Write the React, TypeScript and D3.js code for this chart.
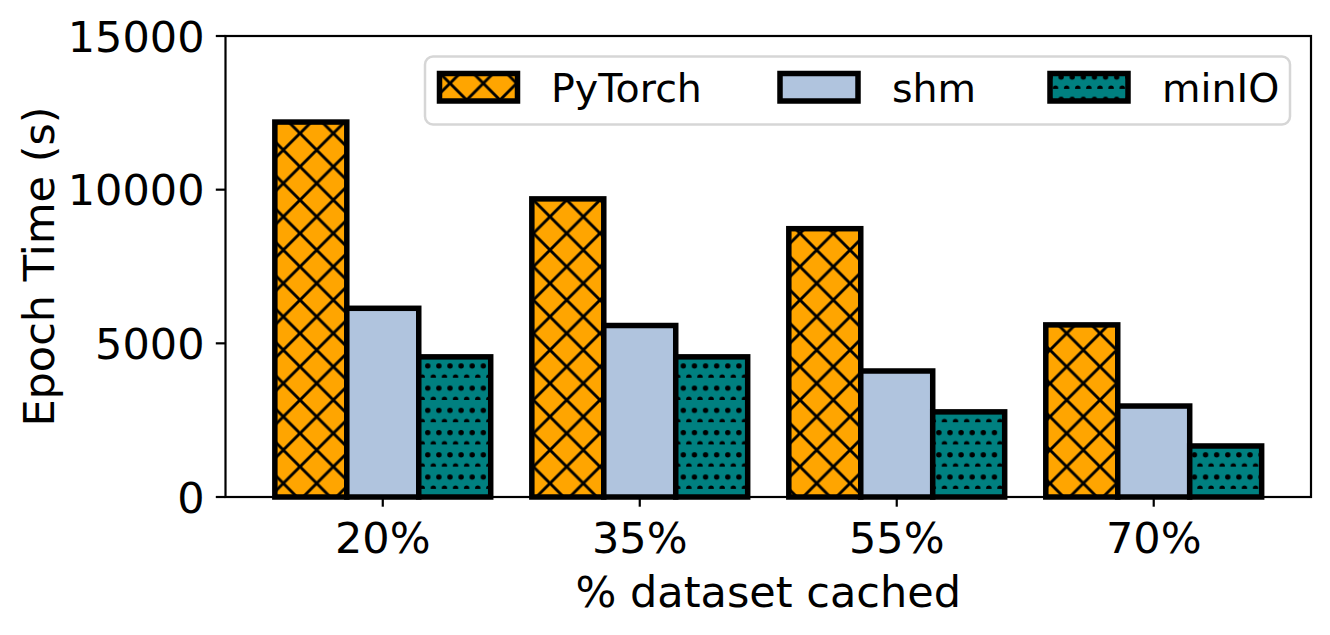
import * as d3 from "d3";

// Epoch time (s) per cache level
const categories = ["20%", "35%", "55%", "70%"];
const seriesNames = ["PyTorch", "shm", "minIO"];
const pytorchValues = [12200, 9700, 8730, 5600];
const shmValues = [6140, 5580, 4100, 2960];
const minioValues = [4560, 4560, 2770, 1660];
const yTicks = [0, 5000, 10000, 15000];

const seriesValues = [pytorchValues, shmValues, minioValues];
const seriesFills = ["url(#hatchCross)", "#B0C4DE", "url(#hatchDots)"];

const W = 1330;
const H = 635;
const plot = { left: 225.5, right: 1311, top: 36, bottom: 497 };
const barWidth = 0.28;
const font = "'DejaVu Sans', sans-serif";
const labelSize = 43;
const legendSize = 39.5;
const hatchStep = 200 / 6; // hatch repeats 6 times per inch at 200 dpi
const dotStep = hatchStep / 3;

// diagonal lines of the "x" hatch, drawn wide enough that tile corners join up
const crossPath = [-1, 0, 1]
    .map((k) => {
        const o = k * hatchStep;
        const h = hatchStep;
        return `M${-h},${o + h * 2} L${h * 2},${o - h} M${-h},${o - h} L${h * 2},${o + h * 2}`;
    })
    .join(" ");

const App = () => {
    const x = d3
        .scaleLinear()
        .domain([-0.612, categories.length - 1 + 0.612])
        .range([plot.left, plot.right]);
    const y = d3.scaleLinear().domain([0, 15000]).range([plot.bottom, plot.top]);

    // legend entries: handle left x, text left x
    const legendItems = [
        { handle: 439.5, text: 551 },
        { handle: 780, text: 892 },
        { handle: 1050, text: 1162 },
    ];

    return (
        <svg
            width={W}
            height={H}
            style={{ position: "absolute", left: 0, top: 0, background: "white" }}
        >
            <defs>
                <pattern
                    id="hatchCross"
                    patternUnits="userSpaceOnUse"
                    width={hatchStep}
                    height={hatchStep}
                >
                    <rect width={hatchStep} height={hatchStep} fill="#FFA500" />
                    <path d={crossPath} stroke="black" strokeWidth={2.9} fill="none" />
                </pattern>
                <pattern
                    id="hatchDots"
                    patternUnits="userSpaceOnUse"
                    width={dotStep}
                    height={dotStep * 2}
                >
                    <rect width={dotStep} height={dotStep * 2} fill="#008080" />
                    <circle cx={dotStep / 2} cy={10.4} r={2.7} fill="black" />
                    <circle cx={0} cy={21.6} r={2.7} fill="black" />
                    <circle cx={dotStep} cy={21.6} r={2.7} fill="black" />
                </pattern>
            </defs>

            {/* bars */}
            {seriesValues.map((values, s) =>
                values.map((v, i) => {
                    const left = x(i + (s - 1) * barWidth - barWidth / 2);
                    const right = x(i + (s - 1) * barWidth + barWidth / 2);
                    return (
                        <rect
                            key={`${s}-${i}`}
                            x={left}
                            y={y(v)}
                            width={right - left}
                            height={y(0) - y(v)}
                            fill={seriesFills[s]}
                            stroke="black"
                            strokeWidth={5.5}
                            strokeLinejoin="miter"
                        />
                    );
                })
            )}

            {/* frame */}
            <rect
                x={plot.left}
                y={plot.top}
                width={plot.right - plot.left}
                height={plot.bottom - plot.top}
                fill="none"
                stroke="black"
                strokeWidth={2.2}
            />

            {/* y axis */}
            {yTicks.map((t) => (
                <g key={t}>
                    <line
                        x1={plot.left - 9.7}
                        x2={plot.left}
                        y1={y(t)}
                        y2={y(t)}
                        stroke="black"
                        strokeWidth={2.2}
                    />
                    <text
                        x={plot.left - 21}
                        y={y(t) + 15.6}
                        textAnchor="end"
                        fontFamily={font}
                        fontSize={labelSize}
                    >
                        {t}
                    </text>
                </g>
            ))}

            {/* x axis */}
            {categories.map((c, i) => (
                <g key={c}>
                    <line
                        x1={x(i)}
                        x2={x(i)}
                        y1={plot.bottom}
                        y2={plot.bottom + 9.7}
                        stroke="black"
                        strokeWidth={2.2}
                    />
                    <text
                        x={x(i)}
                        y={552.5}
                        textAnchor="middle"
                        fontFamily={font}
                        fontSize={labelSize}
                    >
                        {c}
                    </text>
                </g>
            ))}

            <text
                x={(plot.left + plot.right) / 2}
                y={606.5}
                textAnchor="middle"
                fontFamily={font}
                fontSize={labelSize}
            >
                % dataset cached
            </text>
            <text
                transform={`translate(53.5, ${(plot.top + plot.bottom) / 2}) rotate(-90)`}
                textAnchor="middle"
                fontFamily={font}
                fontSize={labelSize}
            >
                Epoch Time (s)
            </text>

            {/* legend */}
            <rect
                x={425}
                y={56.5}
                width={865}
                height={68}
                rx={8}
                fill="white"
                fillOpacity={0.8}
                stroke="#d6d6d6"
                strokeWidth={2.5}
            />
            {seriesNames.map((name, s) => (
                <g key={name}>
                    <rect
                        x={legendItems[s].handle}
                        y={73.5}
                        width={78}
                        height={27.5}
                        fill={seriesFills[s]}
                        stroke="black"
                        strokeWidth={5.5}
                    />
                    <text
                        x={legendItems[s].text}
                        y={102}
                        fontFamily={font}
                        fontSize={legendSize}
                    >
                        {name}
                    </text>
                </g>
            ))}
        </svg>
    );
};

export default App;
